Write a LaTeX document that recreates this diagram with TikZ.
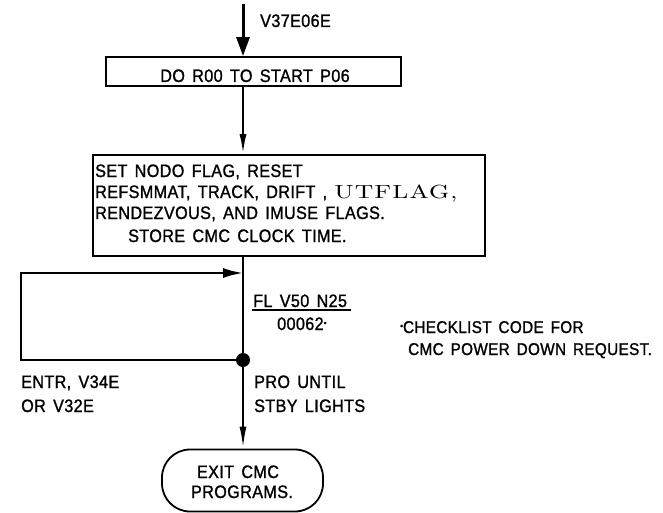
\documentclass[tikz,border=0pt]{standalone}
\usepackage{fontspec}
\setmainfont{Liberation Sans}[FakeStretch=0.9,WordSpace=1.5,FakeBold=1.2,LetterSpace=2]
\newfontfamily\utfont{lmroman10-regular.otf}[FakeStretch=1.35,LetterSpace=6]
\usetikzlibrary{arrows.meta}
\begin{document}
\begin{tikzpicture}[x=1pt,y=-1pt,
  boxnode/.style={draw,line width=1.8pt,inner sep=0pt},
  txt/.style={inner sep=0pt,font=\fontsize{18}{21}\selectfont},
  note/.style={inner sep=0pt,font=\fontsize{17}{21}\selectfont},
  flow/.style={line width=2.2pt}]
\useasboundingbox (0,0) rectangle (663,513);
% coordinates of the flow line
\coordinate (top) at (243,4);
\coordinate (jn) at (243,360);
\coordinate (lt) at (21,273);
\coordinate (lp) at (243,273);
% boxes
\node[boxnode,minimum width=295pt,minimum height=29pt] (b1) at (253.5,71.5) {};
\node[boxnode,minimum width=392pt,minimum height=101pt] (b2) at (289,205.5) {};
\node[boxnode,rounded corners=28pt,minimum width=161pt,minimum height=62pt] (term) at (242.5,480.5) {};
% texts
\node[txt,anchor=base west] (v37) at (260,27) {V37E06E};
\node[txt,anchor=base] (t1) at (255,82) {DO R00 TO START P06};
\node[txt,anchor=base west] (t2a) at (95,177) {SET NODO FLAG, RESET};
\node[txt,anchor=base west] (t2b) at (95,198) {REFSMMAT, TRACK, DRIFT , {\utfont\fontsize{19}{21}\selectfont UTFLAG,}};
\node[txt,anchor=base west] (t2c) at (95,219) {RENDEZVOUS, AND IMUSE FLAGS.};
\node[txt,anchor=base west] (t2d) at (128,242) {STORE CMC CLOCK TIME.};
\node[txt,anchor=base west] (fl) at (253,307) {FL V50 N25};
\node[txt,anchor=base west] (code) at (277,330) {00062\raisebox{4pt}{\fontsize{9}{9}\selectfont •}};
\node[note,anchor=base west] (fn1) at (400,333) {\raisebox{4pt}{\fontsize{9}{9}\selectfont •}CHECKLIST CODE FOR};
\node[note,anchor=base west] (fn2) at (408,355) {CMC POWER DOWN REQUEST.};
\node[txt,anchor=base west] (en1) at (21,388) {ENTR, V34E};
\node[txt,anchor=base west] (en2) at (21,412) {OR V32E};
\node[txt,anchor=base west] (pr1) at (254,388) {PRO UNTIL};
\node[txt,anchor=base west] (pr2) at (254,412) {STBY LIGHTS};
\node[txt,anchor=base] (ex1) at (238,478) {EXIT CMC};
\node[txt,anchor=base] (ex2) at (242,498) {PROGRAMS.};
% underline of FL V50 N25
\draw[line width=1.8pt] ([xshift=-1pt,yshift=-3pt]fl.base west) -- ([xshift=4pt,yshift=-3pt]fl.base east);
% connectors
\draw[line width=3pt,-{Triangle[length=19pt,width=13pt]}] (top) -- (b1.north -| top);
\draw[flow,-{Latex[length=20pt,width=7pt]}] (b1.south -| jn) -- (b2.north -| jn);
\draw[flow] (b2.south -| jn) -- (jn);
\draw[flow,-{Latex[length=22pt,width=7pt]}] (jn) -- (term.north -| jn);
\draw[flow,-{Latex[length=20pt,width=10pt]}] (jn) -- (jn -| lt) -- (lt) -- (lp);
\fill (jn) circle (7pt);
\end{tikzpicture}
\end{document}
